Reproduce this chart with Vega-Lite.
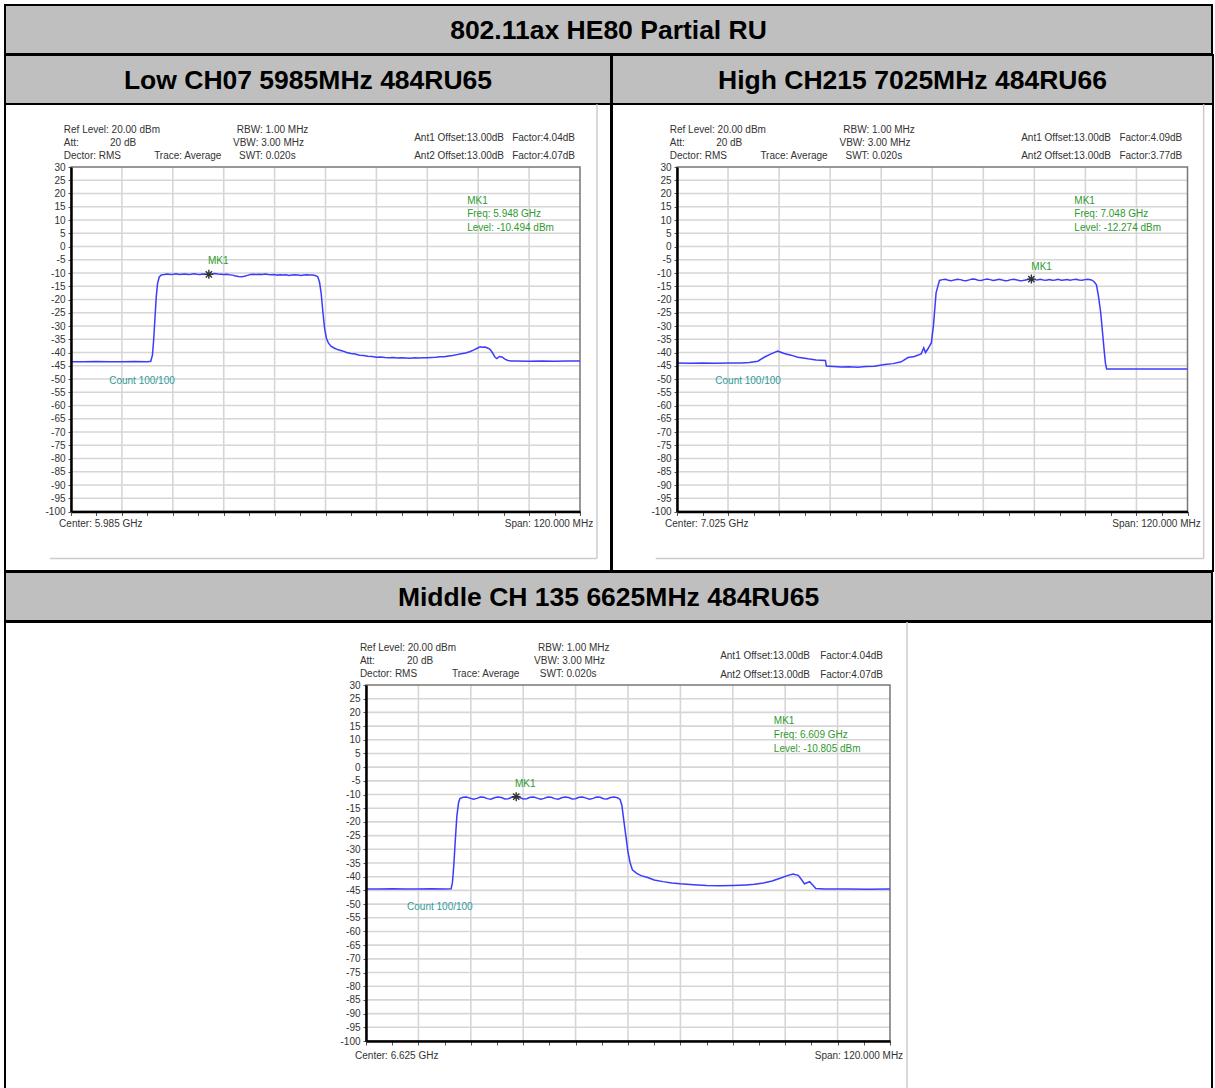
{
"$schema": "https://vega.github.io/schema/vega-lite/v6.json",
"background": "white",
"padding": {"left": 4, "top": 4, "right": 2, "bottom": 0},
"spacing": -2,
"config": {"view": {"stroke": null}, "text": {"font": "Liberation Sans"}, "axis": {"labelFont": "Liberation Sans"}},
"datasets": {
"gridY": [{"db":-95},{"db":-90},{"db":-85},{"db":-80},{"db":-75},{"db":-70},{"db":-65},{"db":-60},{"db":-55},{"db":-50},{"db":-45},{"db":-40},{"db":-35},{"db":-30},{"db":-25},{"db":-20},{"db":-15},{"db":-10},{"db":-5},{"db":0},{"db":5},{"db":10},{"db":15},{"db":20},{"db":25}],
"lowGridX": [{"f":5937},{"f":5949},{"f":5961},{"f":5973},{"f":5985},{"f":5997},{"f":6009},{"f":6021},{"f":6033}],
"highGridX": [{"f":6977},{"f":6989},{"f":7001},{"f":7013},{"f":7025},{"f":7037},{"f":7049},{"f":7061},{"f":7073}],
"midGridX": [{"f":6577},{"f":6589},{"f":6601},{"f":6613},{"f":6625},{"f":6637},{"f":6649},{"f":6661},{"f":6673}],
"lowTrace": [
{"f":5925,"db":-43.5},{"f":5928,"db":-43.5},{"f":5931,"db":-43.4},{"f":5934,"db":-43.5},{"f":5937,"db":-43.5},{"f":5940,"db":-43.4},{"f":5943,"db":-43.5},{"f":5943.8,"db":-43.3},{"f":5944.2,"db":-41},{"f":5944.5,"db":-35},{"f":5944.8,"db":-27},{"f":5945.1,"db":-19},{"f":5945.4,"db":-14},{"f":5945.8,"db":-11.5},{"f":5946.3,"db":-10.7},{"f":5947.0,"db":-10.6},{"f":5947.7,"db":-10.4},{"f":5948.4,"db":-10.6},{"f":5949.1,"db":-10.5},{"f":5949.8,"db":-10.3},{"f":5950.5,"db":-10.6},{"f":5951.2,"db":-10.5},{"f":5951.9,"db":-10.4},{"f":5952.6,"db":-10.6},{"f":5953.3,"db":-10.5},{"f":5954.0,"db":-10.3},{"f":5954.7,"db":-10.5},{"f":5955.4,"db":-10.6},{"f":5956.1,"db":-10.4},{"f":5956.8,"db":-10.5},{"f":5957.5,"db":-10.5},{"f":5958.2,"db":-10.4},{"f":5958.9,"db":-10.2},{"f":5959.6,"db":-10.4},{"f":5960.3,"db":-10.5},{"f":5961.0,"db":-10.6},{"f":5961.7,"db":-10.5},{"f":5962.4,"db":-10.7},{"f":5963.1,"db":-10.8},{"f":5963.8,"db":-11.1},{"f":5964.5,"db":-11.3},{"f":5965.2,"db":-11.4},{"f":5965.9,"db":-11.2},{"f":5966.6,"db":-10.9},{"f":5967.3,"db":-10.6},{"f":5968.0,"db":-10.5},{"f":5968.7,"db":-10.6},{"f":5969.4,"db":-10.5},{"f":5970.1,"db":-10.6},{"f":5970.8,"db":-10.4},{"f":5971.5,"db":-10.6},{"f":5972.2,"db":-10.7},{"f":5972.9,"db":-10.6},{"f":5973.6,"db":-10.8},{"f":5974.3,"db":-10.7},{"f":5975.0,"db":-10.8},{"f":5975.7,"db":-10.7},{"f":5976.4,"db":-10.9},{"f":5977.1,"db":-10.8},{"f":5977.8,"db":-10.7},{"f":5978.5,"db":-10.8},{"f":5979.2,"db":-10.9},{"f":5979.9,"db":-10.8},{"f":5980.6,"db":-10.7},{"f":5981.3,"db":-10.8},{"f":5982.0,"db":-10.8},{"f":5982.7,"db":-11.0},{"f":5983.2,"db":-11.5},{"f":5983.6,"db":-13.5},{"f":5984.0,"db":-18},{"f":5984.4,"db":-25},{"f":5984.8,"db":-31},{"f":5985.2,"db":-34.5},{"f":5985.7,"db":-36.5},{"f":5986.3,"db":-37.6},{"f":5987.0,"db":-38.3},{"f":5988.0,"db":-39.0},{"f":5989.0,"db":-39.4},{"f":5990.0,"db":-40.0},{"f":5991.0,"db":-40.4},{"f":5992.0,"db":-40.6},{"f":5993.0,"db":-41.0},{"f":5994.0,"db":-41.1},{"f":5995.0,"db":-41.4},{"f":5996.0,"db":-41.5},{"f":5997.0,"db":-41.8},{"f":5998.0,"db":-41.7},{"f":5999.0,"db":-41.9},{"f":6000.0,"db":-42.0},{"f":6001.0,"db":-41.9},{"f":6002.0,"db":-42.1},{"f":6003.0,"db":-42.0},{"f":6004.0,"db":-42.1},{"f":6005.0,"db":-42.2},{"f":6006.0,"db":-42.0},{"f":6007.0,"db":-42.1},{"f":6008.0,"db":-42.0},{"f":6009.0,"db":-42.0},{"f":6010.0,"db":-41.9},{"f":6011.0,"db":-41.8},{"f":6012.0,"db":-41.6},{"f":6013.0,"db":-41.6},{"f":6014.0,"db":-41.3},{"f":6015.0,"db":-41.1},{"f":6016.0,"db":-40.8},{"f":6017.0,"db":-40.5},{"f":6018.0,"db":-40.2},{"f":6019.0,"db":-39.7},{"f":6020.0,"db":-39.0},{"f":6021.0,"db":-38.2},{"f":6021.5,"db":-37.8},{"f":6022.0,"db":-38.0},{"f":6022.6,"db":-37.9},{"f":6023.2,"db":-38.3},{"f":6023.8,"db":-38.8},{"f":6024.4,"db":-40.2},{"f":6025.0,"db":-41.8},{"f":6025.4,"db":-42.3},{"f":6026.0,"db":-41.5},{"f":6026.6,"db":-41.7},{"f":6027.3,"db":-42.5},{"f":6028.0,"db":-43.0},{"f":6028.8,"db":-43.2},{"f":6030,"db":-43.2},{"f":6033,"db":-43.3},{"f":6036,"db":-43.2},{"f":6039,"db":-43.3},{"f":6042,"db":-43.2},{"f":6045,"db":-43.2}],
"highTrace": [
{"f":6965,"db":-44.0},{"f":6968,"db":-44.1},{"f":6971,"db":-44.0},{"f":6974,"db":-44.1},{"f":6977,"db":-44.0},{"f":6980.1,"db":-44.0},{"f":6982,"db":-43.8},{"f":6984.0,"db":-43.3},{"f":6985.5,"db":-41.8},{"f":6987.1,"db":-40.5},{"f":6988.7,"db":-39.5},{"f":6990.2,"db":-40.4},{"f":6991.8,"db":-41.0},{"f":6993.4,"db":-41.8},{"f":6995.8,"db":-42.4},{"f":6997.7,"db":-42.8},{"f":6999.9,"db":-43.0},{"f":7000.1,"db":-45.1},{"f":7001.8,"db":-45.3},{"f":7003.6,"db":-45.5},{"f":7005.5,"db":-45.4},{"f":7007.5,"db":-45.6},{"f":7009.4,"db":-45.3},{"f":7011.4,"db":-45.2},{"f":7013.8,"db":-44.5},{"f":7015.8,"db":-44.2},{"f":7017.7,"db":-43.5},{"f":7019.3,"db":-41.9},{"f":7020.8,"db":-41.5},{"f":7022.4,"db":-40.5},{"f":7023.0,"db":-38.2},{"f":7023.4,"db":-40.0},{"f":7024.0,"db":-38.6},{"f":7024.8,"db":-36.3},{"f":7025.3,"db":-29.5},{"f":7025.9,"db":-17.5},{"f":7026.7,"db":-12.8},{"f":7027.4,"db":-12.5},{"f":7028.1,"db":-12.4},{"f":7028.8,"db":-12.7},{"f":7029.5,"db":-12.9},{"f":7030.2,"db":-12.6},{"f":7030.9,"db":-12.4},{"f":7031.6,"db":-12.5},{"f":7032.3,"db":-12.8},{"f":7033.0,"db":-12.9},{"f":7033.7,"db":-12.6},{"f":7034.4,"db":-12.3},{"f":7035.1,"db":-12.4},{"f":7035.8,"db":-12.7},{"f":7036.5,"db":-12.8},{"f":7037.2,"db":-12.5},{"f":7037.9,"db":-12.3},{"f":7038.6,"db":-12.5},{"f":7039.3,"db":-12.8},{"f":7040.0,"db":-12.6},{"f":7040.7,"db":-12.4},{"f":7041.4,"db":-12.6},{"f":7042.1,"db":-12.9},{"f":7042.8,"db":-12.8},{"f":7043.5,"db":-12.5},{"f":7044.2,"db":-12.4},{"f":7044.9,"db":-12.6},{"f":7045.6,"db":-12.9},{"f":7046.3,"db":-12.8},{"f":7047.0,"db":-12.6},{"f":7047.7,"db":-12.4},{"f":7048.3,"db":-12.3},{"f":7049.0,"db":-12.5},{"f":7049.7,"db":-12.6},{"f":7050.4,"db":-12.4},{"f":7051.1,"db":-12.6},{"f":7051.8,"db":-12.7},{"f":7052.5,"db":-12.5},{"f":7053.2,"db":-12.7},{"f":7053.9,"db":-12.6},{"f":7054.6,"db":-12.4},{"f":7055.3,"db":-12.7},{"f":7056.0,"db":-12.6},{"f":7056.7,"db":-12.5},{"f":7057.4,"db":-12.7},{"f":7058.1,"db":-12.5},{"f":7058.8,"db":-12.4},{"f":7059.5,"db":-12.6},{"f":7060.2,"db":-12.7},{"f":7060.9,"db":-12.5},{"f":7061.6,"db":-12.4},{"f":7062.4,"db":-12.6},{"f":7063.0,"db":-13.2},{"f":7063.6,"db":-14.5},{"f":7064.1,"db":-19},{"f":7064.6,"db":-25},{"f":7065.0,"db":-32},{"f":7065.4,"db":-39},{"f":7065.7,"db":-44},{"f":7066.0,"db":-46.2},{"f":7070,"db":-46.2},{"f":7075,"db":-46.2},{"f":7080,"db":-46.2},{"f":7085,"db":-46.2}],
"midTrace": [
{"f":6565,"db":-44.5},{"f":6568,"db":-44.5},{"f":6571,"db":-44.4},{"f":6574,"db":-44.5},{"f":6577,"db":-44.5},{"f":6580,"db":-44.4},{"f":6583,"db":-44.5},{"f":6584.5,"db":-44.4},{"f":6584.8,"db":-42},{"f":6585.1,"db":-36},{"f":6585.4,"db":-28},{"f":6585.8,"db":-18},{"f":6586.2,"db":-13},{"f":6586.5,"db":-11.5},{"f":6587.2,"db":-11.0},{"f":6588.0,"db":-10.9},{"f":6588.8,"db":-11.3},{"f":6589.6,"db":-11.7},{"f":6590.4,"db":-11.4},{"f":6591.2,"db":-10.9},{"f":6592.0,"db":-11.0},{"f":6592.8,"db":-11.5},{"f":6593.6,"db":-11.7},{"f":6594.4,"db":-11.2},{"f":6595.2,"db":-10.9},{"f":6596.0,"db":-11.1},{"f":6596.8,"db":-11.6},{"f":6597.6,"db":-11.5},{"f":6598.4,"db":-11.0},{"f":6599.4,"db":-10.8},{"f":6600.2,"db":-11.1},{"f":6601.0,"db":-11.6},{"f":6601.8,"db":-11.5},{"f":6602.6,"db":-11.0},{"f":6603.4,"db":-10.9},{"f":6604.2,"db":-11.3},{"f":6605.0,"db":-11.7},{"f":6605.8,"db":-11.4},{"f":6606.6,"db":-10.9},{"f":6607.4,"db":-11.0},{"f":6608.2,"db":-11.5},{"f":6609.0,"db":-11.7},{"f":6609.8,"db":-11.2},{"f":6610.6,"db":-10.9},{"f":6611.4,"db":-11.1},{"f":6612.2,"db":-11.6},{"f":6613.0,"db":-11.5},{"f":6613.8,"db":-11.0},{"f":6614.6,"db":-10.9},{"f":6615.4,"db":-11.3},{"f":6616.2,"db":-11.7},{"f":6617.0,"db":-11.4},{"f":6617.8,"db":-10.9},{"f":6618.6,"db":-11.0},{"f":6619.4,"db":-11.5},{"f":6620.2,"db":-11.6},{"f":6621.0,"db":-11.1},{"f":6621.8,"db":-10.9},{"f":6622.6,"db":-11.2},{"f":6623.2,"db":-11.8},{"f":6623.6,"db":-14},{"f":6624.0,"db":-19},{"f":6624.5,"db":-25},{"f":6625.0,"db":-31},{"f":6625.5,"db":-35},{"f":6626.0,"db":-37.5},{"f":6627.0,"db":-38.8},{"f":6628.0,"db":-39.6},{"f":6629.5,"db":-40.3},{"f":6631,"db":-41.2},{"f":6633,"db":-41.8},{"f":6635,"db":-42.3},{"f":6637,"db":-42.6},{"f":6640,"db":-42.9},{"f":6643,"db":-43.2},{"f":6646,"db":-43.3},{"f":6649,"db":-43.2},{"f":6652,"db":-43.0},{"f":6654,"db":-42.8},{"f":6656,"db":-42.3},{"f":6658,"db":-41.6},{"f":6660,"db":-40.5},{"f":6661.5,"db":-39.6},{"f":6662.8,"db":-39.0},{"f":6664.0,"db":-39.5},{"f":6664.8,"db":-41.2},{"f":6665.4,"db":-42.6},{"f":6666.0,"db":-42.2},{"f":6666.6,"db":-41.8},{"f":6667.3,"db":-43.0},{"f":6668,"db":-44.3},{"f":6670,"db":-44.5},{"f":6675,"db":-44.5},{"f":6680,"db":-44.6},{"f":6685,"db":-44.5}],
"lowMarker": [{"f":5957.5,"db":-10.5}],
"highMarker": [{"f":7048.3,"db":-12.3}],
"midMarker": [{"f":6599.4,"db":-10.8}],
"lowText": [
{"f":5923.3,"db":43.9,"label":"Ref Level: 20.00 dBm","kind":"info"},
{"f":5923.3,"db":39.0,"label":"Att:","kind":"info"},
{"f":5934.2,"db":39.0,"label":"20 dB","kind":"info"},
{"f":5923.3,"db":34.1,"label":"Dector: RMS","kind":"info"},
{"f":5944.6,"db":34.1,"label":"Trace: Average","kind":"info"},
{"f":5964.1,"db":43.9,"label":"RBW: 1.00 MHz","kind":"info"},
{"f":5963.2,"db":39.0,"label":"VBW: 3.00 MHz","kind":"info"},
{"f":5964.6,"db":34.1,"label":"SWT: 0.020s","kind":"info"},
{"f":6005.9,"db":40.9,"label":"Ant1 Offset:13.00dB","kind":"info"},
{"f":6029.0,"db":40.9,"label":"Factor:4.04dB","kind":"info"},
{"f":6005.9,"db":34.1,"label":"Ant2 Offset:13.00dB","kind":"info"},
{"f":6029.0,"db":34.1,"label":"Factor:4.07dB","kind":"info"},
{"f":6018.4,"db":17.2,"label":"MK1","kind":"marker"},
{"f":6018.4,"db":12.3,"label":"Freq: 5.948 GHz","kind":"marker"},
{"f":6018.4,"db":7.0,"label":"Level: -10.494 dBm","kind":"marker"},
{"f":5957.3,"db":-5.4,"label":"MK1","kind":"marker"},
{"f":5934.0,"db":-50.6,"label":"Count 100/100","kind":"count"},
{"f":5922.2,"db":-104.9,"label":"Center: 5.985 GHz","kind":"info"},
{"f":6048.1,"db":-104.9,"label":"Span: 120.000 MHz","kind":"info","side":"right"}],
"highText": [
{"f":6963.3,"db":43.9,"label":"Ref Level: 20.00 dBm","kind":"info"},
{"f":6963.3,"db":39.0,"label":"Att:","kind":"info"},
{"f":6974.2,"db":39.0,"label":"20 dB","kind":"info"},
{"f":6963.3,"db":34.1,"label":"Dector: RMS","kind":"info"},
{"f":6984.6,"db":34.1,"label":"Trace: Average","kind":"info"},
{"f":7004.1,"db":43.9,"label":"RBW: 1.00 MHz","kind":"info"},
{"f":7003.2,"db":39.0,"label":"VBW: 3.00 MHz","kind":"info"},
{"f":7004.6,"db":34.1,"label":"SWT: 0.020s","kind":"info"},
{"f":7045.9,"db":40.9,"label":"Ant1 Offset:13.00dB","kind":"info"},
{"f":7069.0,"db":40.9,"label":"Factor:4.09dB","kind":"info"},
{"f":7045.9,"db":34.1,"label":"Ant2 Offset:13.00dB","kind":"info"},
{"f":7069.0,"db":34.1,"label":"Factor:3.77dB","kind":"info"},
{"f":7058.4,"db":17.2,"label":"MK1","kind":"marker"},
{"f":7058.4,"db":12.3,"label":"Freq: 7.048 GHz","kind":"marker"},
{"f":7058.4,"db":7.0,"label":"Level: -12.274 dBm","kind":"marker"},
{"f":7048.3,"db":-7.7,"label":"MK1","kind":"marker"},
{"f":6974.0,"db":-50.6,"label":"Count 100/100","kind":"count"},
{"f":6962.2,"db":-104.9,"label":"Center: 7.025 GHz","kind":"info"},
{"f":7088.1,"db":-104.9,"label":"Span: 120.000 MHz","kind":"info","side":"right"}],
"midText": [
{"f":6563.6,"db":43.5,"label":"Ref Level: 20.00 dBm","kind":"info"},
{"f":6563.6,"db":38.8,"label":"Att:","kind":"info"},
{"f":6574.4,"db":38.8,"label":"20 dB","kind":"info"},
{"f":6563.6,"db":34.0,"label":"Dector: RMS","kind":"info"},
{"f":6584.7,"db":34.0,"label":"Trace: Average","kind":"info"},
{"f":6604.4,"db":43.5,"label":"RBW: 1.00 MHz","kind":"info"},
{"f":6603.5,"db":38.8,"label":"VBW: 3.00 MHz","kind":"info"},
{"f":6604.8,"db":34.0,"label":"SWT: 0.020s","kind":"info"},
{"f":6646.1,"db":40.6,"label":"Ant1 Offset:13.00dB","kind":"info"},
{"f":6669.0,"db":40.6,"label":"Factor:4.04dB","kind":"info"},
{"f":6646.1,"db":33.7,"label":"Ant2 Offset:13.00dB","kind":"info"},
{"f":6669.0,"db":33.7,"label":"Factor:4.07dB","kind":"info"},
{"f":6658.4,"db":16.9,"label":"MK1","kind":"marker"},
{"f":6658.4,"db":11.7,"label":"Freq: 6.609 GHz","kind":"marker"},
{"f":6658.4,"db":6.6,"label":"Level: -10.805 dBm","kind":"marker"},
{"f":6599.1,"db":-6.2,"label":"MK1","kind":"marker"},
{"f":6574.4,"db":-51.1,"label":"Count 100/100","kind":"count"},
{"f":6562.5,"db":-105.5,"label":"Center: 6.625 GHz","kind":"info"},
{"f":6688.0,"db":-105.5,"label":"Span: 120.000 MHz","kind":"info","side":"right"}]
},
"vconcat": [
{"width": 1207, "height": 49, "view": {"fill": "#bfbfbf", "stroke": "#000", "strokeWidth": 2},
 "data": {"values": [{"label": "802.11ax HE80 Partial RU"}]},
 "mark": {"type": "text", "fontSize": 26.5, "fontWeight": "bold", "font": "Liberation Sans", "color": "#000", "dy": 1.5},
 "encoding": {"text": {"field": "label"}}},
{"hconcat": [
 {"vconcat": [
  {"width": 606, "height": 49, "view": {"fill": "#bfbfbf", "stroke": "#000", "strokeWidth": 2},
   "data": {"values": [{"label": "Low CH07 5985MHz 484RU65"}]},
   "mark": {"type": "text", "fontSize": 26.5, "fontWeight": "bold", "font": "Liberation Sans", "color": "#000", "dy": 1.5},
   "encoding": {"text": {"field": "label"}}},
  {"width": 606, "height": 467, "view": {"fill": "white", "stroke": "#000", "strokeWidth": 2},
   "layer": [
    {"data": {"name": "gridY"}, "mark": {"type": "rule", "color": "#d6d6d6", "strokeWidth": 1.6},
     "encoding": {"y": {"field": "db", "type": "quantitative", "title": null, "axis": {"values": [30,25,20,15,10,5,0,-5,-10,-15,-20,-25,-30,-35,-40,-45,-50,-55,-60,-65,-70,-75,-80,-85,-90,-95,-100]}}, "x": {"datum": 5925, "type": "quantitative", "title": null, "axis": {"values": [5925,5931,5937,5943,5949,5955,5961,5967,5973,5979,5985,5991,5997,6003,6009,6015,6021,6027,6033,6039,6045]}}, "x2": {"datum": 6045}}},
    {"data": {"name": "lowGridX"}, "mark": {"type": "rule", "color": "#d6d6d6", "strokeWidth": 1.6},
     "encoding": {"x": {"field": "f", "type": "quantitative", "title": null, "axis": {"values": [5925,5931,5937,5943,5949,5955,5961,5967,5973,5979,5985,5991,5997,6003,6009,6015,6021,6027,6033,6039,6045]}}, "y": {"datum": -100, "type": "quantitative", "title": null, "axis": {"values": [30,25,20,15,10,5,0,-5,-10,-15,-20,-25,-30,-35,-40,-45,-50,-55,-60,-65,-70,-75,-80,-85,-90,-95,-100]}}, "y2": {"datum": 30}}},
    {"data": {"values": [{}]}, "mark": {"type": "rect", "filled": false, "stroke": "#777777", "strokeWidth": 1.5},
     "encoding": {"x": {"datum": 5925, "type": "quantitative", "title": null, "axis": {"values": [5925,5931,5937,5943,5949,5955,5961,5967,5973,5979,5985,5991,5997,6003,6009,6015,6021,6027,6033,6039,6045]}}, "x2": {"datum": 6045}, "y": {"datum": 30, "type": "quantitative", "title": null, "axis": {"values": [30,25,20,15,10,5,0,-5,-10,-15,-20,-25,-30,-35,-40,-45,-50,-55,-60,-65,-70,-75,-80,-85,-90,-95,-100]}}, "y2": {"datum": -100}}},
    {"data": {"values": [{}]}, "mark": {"type": "rule", "color": "#cccccc", "strokeWidth": 1.5},
     "encoding": {"x": {"datum": 6049, "type": "quantitative", "title": null, "axis": {"values": [5925,5931,5937,5943,5949,5955,5961,5967,5973,5979,5985,5991,5997,6003,6009,6015,6021,6027,6033,6039,6045]}}, "y": {"datum": -117.7, "type": "quantitative", "title": null, "axis": {"values": [30,25,20,15,10,5,0,-5,-10,-15,-20,-25,-30,-35,-40,-45,-50,-55,-60,-65,-70,-75,-80,-85,-90,-95,-100]}}, "y2": {"datum": 53.7}}},
    {"data": {"values": [{}]}, "mark": {"type": "rule", "color": "#cccccc", "strokeWidth": 1.5},
     "encoding": {"x": {"datum": 5920, "type": "quantitative", "title": null, "axis": {"values": [5925,5931,5937,5943,5949,5955,5961,5967,5973,5979,5985,5991,5997,6003,6009,6015,6021,6027,6033,6039,6045]}}, "x2": {"datum": 6049}, "y": {"datum": -117.7, "type": "quantitative", "title": null, "axis": {"values": [30,25,20,15,10,5,0,-5,-10,-15,-20,-25,-30,-35,-40,-45,-50,-55,-60,-65,-70,-75,-80,-85,-90,-95,-100]}}}},
    {"data": {"name": "lowTrace"}, "mark": {"type": "line", "color": "#3c3cff", "strokeWidth": 1.5},
     "encoding": {
      "x": {"field": "f", "type": "quantitative", "title": null, "scale": {"domain": [5925, 6045], "range": [66, 575], "nice": false, "zero": false},
            "axis": {"orient": "bottom", "offset": -59.5, "values": [5925,5931,5937,5943,5949,5955,5961,5967,5973,5979,5985,5991,5997,6003,6009,6015,6021,6027,6033,6039,6045], "labels": false, "grid": false, "title": null, "domainColor": "#000", "domainWidth": 2.5, "tickColor": "#555", "tickSize": 4, "zindex": 1}},
      "y": {"field": "db", "type": "quantitative", "title": null, "scale": {"domain": [-100, 30], "range": [407.5, 63], "nice": false, "zero": false},
            "axis": {"orient": "left", "offset": -66, "values": [30,25,20,15,10,5,0,-5,-10,-15,-20,-25,-30,-35,-40,-45,-50,-55,-60,-65,-70,-75,-80,-85,-90,-95,-100], "labelExpr": "datum.value + ''", "grid": false, "title": null, "domainColor": "#000", "domainWidth": 2.5, "tickColor": "#555", "tickSize": 3, "labelFontSize": 10, "labelColor": "#333", "labelPadding": 3, "labelOverlap": false, "zindex": 1}}}},
    {"data": {"name": "lowMarker"}, "mark": {"type": "point", "shape": "M-1,0H1M0,-1V1M-0.7,-0.7L0.7,0.7M-0.7,0.7L0.7,-0.7", "size": 80, "filled": false, "color": "#333", "strokeWidth": 1.4, "opacity": 1},
     "encoding": {"x": {"field": "f", "type": "quantitative", "title": null, "axis": {"values": [5925,5931,5937,5943,5949,5955,5961,5967,5973,5979,5985,5991,5997,6003,6009,6015,6021,6027,6033,6039,6045]}}, "y": {"field": "db", "type": "quantitative", "title": null, "axis": {"values": [30,25,20,15,10,5,0,-5,-10,-15,-20,-25,-30,-35,-40,-45,-50,-55,-60,-65,-70,-75,-80,-85,-90,-95,-100]}}}},
    {"data": {"name": "lowText"}, "transform": [{"filter": "datum.side !== 'right'"}], "mark": {"type": "text", "align": "left", "baseline": "middle", "fontSize": 10},
     "encoding": {"x": {"field": "f", "type": "quantitative", "title": null, "axis": {"values": [5925,5931,5937,5943,5949,5955,5961,5967,5973,5979,5985,5991,5997,6003,6009,6015,6021,6027,6033,6039,6045]}}, "y": {"field": "db", "type": "quantitative", "title": null, "axis": {"values": [30,25,20,15,10,5,0,-5,-10,-15,-20,-25,-30,-35,-40,-45,-50,-55,-60,-65,-70,-75,-80,-85,-90,-95,-100]}}, "text": {"field": "label"},
      "color": {"field": "kind", "type": "nominal", "scale": {"domain": ["info","marker","count"], "range": ["#333333","#2e9a2e","#2f9a9a"]}, "legend": null}}},
    {"data": {"name": "lowText"}, "transform": [{"filter": "datum.side === 'right'"}], "mark": {"type": "text", "align": "right", "baseline": "middle", "fontSize": 10},
     "encoding": {"x": {"field": "f", "type": "quantitative", "title": null, "axis": {"values": [5925,5931,5937,5943,5949,5955,5961,5967,5973,5979,5985,5991,5997,6003,6009,6015,6021,6027,6033,6039,6045]}}, "y": {"field": "db", "type": "quantitative", "title": null, "axis": {"values": [30,25,20,15,10,5,0,-5,-10,-15,-20,-25,-30,-35,-40,-45,-50,-55,-60,-65,-70,-75,-80,-85,-90,-95,-100]}}, "text": {"field": "label"},
      "color": {"field": "kind", "type": "nominal", "legend": null}}}
   ]}
 ], "spacing": 0, "bounds": "flush"},
 {"vconcat": [
  {"width": 601, "height": 49, "view": {"fill": "#bfbfbf", "stroke": "#000", "strokeWidth": 2},
   "data": {"values": [{"label": "High CH215 7025MHz 484RU66"}]},
   "mark": {"type": "text", "fontSize": 26.5, "fontWeight": "bold", "font": "Liberation Sans", "color": "#000", "dy": 1.5},
   "encoding": {"text": {"field": "label"}}},
  {"width": 601, "height": 467, "view": {"fill": "white", "stroke": "#000", "strokeWidth": 2},
   "layer": [
    {"data": {"name": "gridY"}, "mark": {"type": "rule", "color": "#d6d6d6", "strokeWidth": 1.6},
     "encoding": {"y": {"field": "db", "type": "quantitative", "title": null, "axis": {"values": [30,25,20,15,10,5,0,-5,-10,-15,-20,-25,-30,-35,-40,-45,-50,-55,-60,-65,-70,-75,-80,-85,-90,-95,-100]}}, "x": {"datum": 6965, "type": "quantitative", "title": null, "axis": {"values": [6965,6971,6977,6983,6989,6995,7001,7007,7013,7019,7025,7031,7037,7043,7049,7055,7061,7067,7073,7079,7085]}}, "x2": {"datum": 7085}}},
    {"data": {"name": "highGridX"}, "mark": {"type": "rule", "color": "#d6d6d6", "strokeWidth": 1.6},
     "encoding": {"x": {"field": "f", "type": "quantitative", "title": null, "axis": {"values": [6965,6971,6977,6983,6989,6995,7001,7007,7013,7019,7025,7031,7037,7043,7049,7055,7061,7067,7073,7079,7085]}}, "y": {"datum": -100, "type": "quantitative", "title": null, "axis": {"values": [30,25,20,15,10,5,0,-5,-10,-15,-20,-25,-30,-35,-40,-45,-50,-55,-60,-65,-70,-75,-80,-85,-90,-95,-100]}}, "y2": {"datum": 30}}},
    {"data": {"values": [{}]}, "mark": {"type": "rect", "filled": false, "stroke": "#777777", "strokeWidth": 1.5},
     "encoding": {"x": {"datum": 6965, "type": "quantitative", "title": null, "axis": {"values": [6965,6971,6977,6983,6989,6995,7001,7007,7013,7019,7025,7031,7037,7043,7049,7055,7061,7067,7073,7079,7085]}}, "x2": {"datum": 7085}, "y": {"datum": 30, "type": "quantitative", "title": null, "axis": {"values": [30,25,20,15,10,5,0,-5,-10,-15,-20,-25,-30,-35,-40,-45,-50,-55,-60,-65,-70,-75,-80,-85,-90,-95,-100]}}, "y2": {"datum": -100}}},
    {"data": {"values": [{}]}, "mark": {"type": "rule", "color": "#cccccc", "strokeWidth": 1.5},
     "encoding": {"x": {"datum": 7088.8, "type": "quantitative", "title": null, "axis": {"values": [6965,6971,6977,6983,6989,6995,7001,7007,7013,7019,7025,7031,7037,7043,7049,7055,7061,7067,7073,7079,7085]}}, "y": {"datum": -117.7, "type": "quantitative", "title": null, "axis": {"values": [30,25,20,15,10,5,0,-5,-10,-15,-20,-25,-30,-35,-40,-45,-50,-55,-60,-65,-70,-75,-80,-85,-90,-95,-100]}}, "y2": {"datum": 53.7}}},
    {"data": {"values": [{}]}, "mark": {"type": "rule", "color": "#cccccc", "strokeWidth": 1.5},
     "encoding": {"x": {"datum": 6960, "type": "quantitative", "title": null, "axis": {"values": [6965,6971,6977,6983,6989,6995,7001,7007,7013,7019,7025,7031,7037,7043,7049,7055,7061,7067,7073,7079,7085]}}, "x2": {"datum": 7088.8}, "y": {"datum": -117.7, "type": "quantitative", "title": null, "axis": {"values": [30,25,20,15,10,5,0,-5,-10,-15,-20,-25,-30,-35,-40,-45,-50,-55,-60,-65,-70,-75,-80,-85,-90,-95,-100]}}}},
    {"data": {"name": "highTrace"}, "mark": {"type": "line", "color": "#3c3cff", "strokeWidth": 1.5},
     "encoding": {
      "x": {"field": "f", "type": "quantitative", "title": null, "scale": {"domain": [6965, 7085], "range": [65, 575.5], "nice": false, "zero": false},
            "axis": {"orient": "bottom", "offset": -59.5, "values": [6965,6971,6977,6983,6989,6995,7001,7007,7013,7019,7025,7031,7037,7043,7049,7055,7061,7067,7073,7079,7085], "labels": false, "grid": false, "title": null, "domainColor": "#000", "domainWidth": 2.5, "tickColor": "#555", "tickSize": 4, "zindex": 1}},
      "y": {"field": "db", "type": "quantitative", "title": null, "scale": {"domain": [-100, 30], "range": [407.5, 63], "nice": false, "zero": false},
            "axis": {"orient": "left", "offset": -65, "values": [30,25,20,15,10,5,0,-5,-10,-15,-20,-25,-30,-35,-40,-45,-50,-55,-60,-65,-70,-75,-80,-85,-90,-95,-100], "labelExpr": "datum.value + ''", "grid": false, "title": null, "domainColor": "#000", "domainWidth": 2.5, "tickColor": "#555", "tickSize": 3, "labelFontSize": 10, "labelColor": "#333", "labelPadding": 3, "labelOverlap": false, "zindex": 1}}}},
    {"data": {"name": "highMarker"}, "mark": {"type": "point", "shape": "M-1,0H1M0,-1V1M-0.7,-0.7L0.7,0.7M-0.7,0.7L0.7,-0.7", "size": 80, "filled": false, "color": "#333", "strokeWidth": 1.4, "opacity": 1},
     "encoding": {"x": {"field": "f", "type": "quantitative", "title": null, "axis": {"values": [6965,6971,6977,6983,6989,6995,7001,7007,7013,7019,7025,7031,7037,7043,7049,7055,7061,7067,7073,7079,7085]}}, "y": {"field": "db", "type": "quantitative", "title": null, "axis": {"values": [30,25,20,15,10,5,0,-5,-10,-15,-20,-25,-30,-35,-40,-45,-50,-55,-60,-65,-70,-75,-80,-85,-90,-95,-100]}}}},
    {"data": {"name": "highText"}, "transform": [{"filter": "datum.side !== 'right'"}], "mark": {"type": "text", "align": "left", "baseline": "middle", "fontSize": 10},
     "encoding": {"x": {"field": "f", "type": "quantitative", "title": null, "axis": {"values": [6965,6971,6977,6983,6989,6995,7001,7007,7013,7019,7025,7031,7037,7043,7049,7055,7061,7067,7073,7079,7085]}}, "y": {"field": "db", "type": "quantitative", "title": null, "axis": {"values": [30,25,20,15,10,5,0,-5,-10,-15,-20,-25,-30,-35,-40,-45,-50,-55,-60,-65,-70,-75,-80,-85,-90,-95,-100]}}, "text": {"field": "label"},
      "color": {"field": "kind", "type": "nominal", "scale": {"domain": ["info","marker","count"], "range": ["#333333","#2e9a2e","#2f9a9a"]}, "legend": null}}},
    {"data": {"name": "highText"}, "transform": [{"filter": "datum.side === 'right'"}], "mark": {"type": "text", "align": "right", "baseline": "middle", "fontSize": 10},
     "encoding": {"x": {"field": "f", "type": "quantitative", "title": null, "axis": {"values": [6965,6971,6977,6983,6989,6995,7001,7007,7013,7019,7025,7031,7037,7043,7049,7055,7061,7067,7073,7079,7085]}}, "y": {"field": "db", "type": "quantitative", "title": null, "axis": {"values": [30,25,20,15,10,5,0,-5,-10,-15,-20,-25,-30,-35,-40,-45,-50,-55,-60,-65,-70,-75,-80,-85,-90,-95,-100]}}, "text": {"field": "label"},
      "color": {"field": "kind", "type": "nominal", "legend": null}}}
   ]}
 ], "spacing": 0, "bounds": "flush"}
], "spacing": -2},
{"width": 1207, "height": 49, "view": {"fill": "#bfbfbf", "stroke": "#000", "strokeWidth": 2},
 "data": {"values": [{"label": "Middle CH 135 6625MHz 484RU65"}]},
 "mark": {"type": "text", "fontSize": 26.5, "fontWeight": "bold", "font": "Liberation Sans", "color": "#000", "dy": 1.5},
 "encoding": {"text": {"field": "label"}}},
{"width": 1207, "height": 470, "view": {"fill": "white", "stroke": "#000", "strokeWidth": 2},
 "layer": [
  {"data": {"name": "gridY"}, "mark": {"type": "rule", "color": "#d6d6d6", "strokeWidth": 1.6},
   "encoding": {"y": {"field": "db", "type": "quantitative", "title": null, "axis": {"values": [30,25,20,15,10,5,0,-5,-10,-15,-20,-25,-30,-35,-40,-45,-50,-55,-60,-65,-70,-75,-80,-85,-90,-95,-100]}}, "x": {"datum": 6565, "type": "quantitative", "title": null, "axis": {"values": [6565,6571,6577,6583,6589,6595,6601,6607,6613,6619,6625,6631,6637,6643,6649,6655,6661,6667,6673,6679,6685]}}, "x2": {"datum": 6685}}},
  {"data": {"name": "midGridX"}, "mark": {"type": "rule", "color": "#d6d6d6", "strokeWidth": 1.6},
   "encoding": {"x": {"field": "f", "type": "quantitative", "title": null, "axis": {"values": [6565,6571,6577,6583,6589,6595,6601,6607,6613,6619,6625,6631,6637,6643,6649,6655,6661,6667,6673,6679,6685]}}, "y": {"datum": -100, "type": "quantitative", "title": null, "axis": {"values": [30,25,20,15,10,5,0,-5,-10,-15,-20,-25,-30,-35,-40,-45,-50,-55,-60,-65,-70,-75,-80,-85,-90,-95,-100]}}, "y2": {"datum": 30}}},
  {"data": {"values": [{}]}, "mark": {"type": "rect", "filled": false, "stroke": "#777777", "strokeWidth": 1.5},
   "encoding": {"x": {"datum": 6565, "type": "quantitative", "title": null, "axis": {"values": [6565,6571,6577,6583,6589,6595,6601,6607,6613,6619,6625,6631,6637,6643,6649,6655,6661,6667,6673,6679,6685]}}, "x2": {"datum": 6685}, "y": {"datum": 30, "type": "quantitative", "title": null, "axis": {"values": [30,25,20,15,10,5,0,-5,-10,-15,-20,-25,-30,-35,-40,-45,-50,-55,-60,-65,-70,-75,-80,-85,-90,-95,-100]}}, "y2": {"datum": -100}}},
  {"data": {"values": [{}]}, "mark": {"type": "rule", "color": "#cccccc", "strokeWidth": 1.5},
   "encoding": {"x": {"datum": 6688.9, "type": "quantitative", "title": null, "axis": {"values": [6565,6571,6577,6583,6589,6595,6601,6607,6613,6619,6625,6631,6637,6643,6649,6655,6661,6667,6673,6679,6685]}}, "y": {"datum": -120, "type": "quantitative", "title": null, "axis": {"values": [30,25,20,15,10,5,0,-5,-10,-15,-20,-25,-30,-35,-40,-45,-50,-55,-60,-65,-70,-75,-80,-85,-90,-95,-100]}}, "y2": {"datum": 53}}},
  {"data": {"name": "midTrace"}, "mark": {"type": "line", "color": "#3c3cff", "strokeWidth": 1.5},
   "encoding": {
    "x": {"field": "f", "type": "quantitative", "title": null, "scale": {"domain": [6565, 6685], "range": [361, 885], "nice": false, "zero": false},
          "axis": {"orient": "bottom", "offset": -51, "values": [6565,6571,6577,6583,6589,6595,6601,6607,6613,6619,6625,6631,6637,6643,6649,6655,6661,6667,6673,6679,6685], "labels": false, "grid": false, "title": null, "domainColor": "#000", "domainWidth": 2.5, "tickColor": "#555", "tickSize": 4, "zindex": 1}},
    "y": {"field": "db", "type": "quantitative", "title": null, "scale": {"domain": [-100, 30], "range": [419, 63], "nice": false, "zero": false},
          "axis": {"orient": "left", "offset": -361, "values": [30,25,20,15,10,5,0,-5,-10,-15,-20,-25,-30,-35,-40,-45,-50,-55,-60,-65,-70,-75,-80,-85,-90,-95,-100], "labelExpr": "datum.value + ''", "grid": false, "title": null, "domainColor": "#000", "domainWidth": 2.5, "tickColor": "#555", "tickSize": 3, "labelFontSize": 10, "labelColor": "#333", "labelPadding": 3, "labelOverlap": false, "zindex": 1}}}},
  {"data": {"name": "midMarker"}, "mark": {"type": "point", "shape": "M-1,0H1M0,-1V1M-0.7,-0.7L0.7,0.7M-0.7,0.7L0.7,-0.7", "size": 80, "filled": false, "color": "#333", "strokeWidth": 1.4, "opacity": 1},
   "encoding": {"x": {"field": "f", "type": "quantitative", "title": null, "axis": {"values": [6565,6571,6577,6583,6589,6595,6601,6607,6613,6619,6625,6631,6637,6643,6649,6655,6661,6667,6673,6679,6685]}}, "y": {"field": "db", "type": "quantitative", "title": null, "axis": {"values": [30,25,20,15,10,5,0,-5,-10,-15,-20,-25,-30,-35,-40,-45,-50,-55,-60,-65,-70,-75,-80,-85,-90,-95,-100]}}}},
  {"data": {"name": "midText"}, "transform": [{"filter": "datum.side !== 'right'"}], "mark": {"type": "text", "align": "left", "baseline": "middle", "fontSize": 10},
   "encoding": {"x": {"field": "f", "type": "quantitative", "title": null, "axis": {"values": [6565,6571,6577,6583,6589,6595,6601,6607,6613,6619,6625,6631,6637,6643,6649,6655,6661,6667,6673,6679,6685]}}, "y": {"field": "db", "type": "quantitative", "title": null, "axis": {"values": [30,25,20,15,10,5,0,-5,-10,-15,-20,-25,-30,-35,-40,-45,-50,-55,-60,-65,-70,-75,-80,-85,-90,-95,-100]}}, "text": {"field": "label"},
    "color": {"field": "kind", "type": "nominal", "scale": {"domain": ["info","marker","count"], "range": ["#333333","#2e9a2e","#2f9a9a"]}, "legend": null}}},
  {"data": {"name": "midText"}, "transform": [{"filter": "datum.side === 'right'"}], "mark": {"type": "text", "align": "right", "baseline": "middle", "fontSize": 10},
   "encoding": {"x": {"field": "f", "type": "quantitative", "title": null, "axis": {"values": [6565,6571,6577,6583,6589,6595,6601,6607,6613,6619,6625,6631,6637,6643,6649,6655,6661,6667,6673,6679,6685]}}, "y": {"field": "db", "type": "quantitative", "title": null, "axis": {"values": [30,25,20,15,10,5,0,-5,-10,-15,-20,-25,-30,-35,-40,-45,-50,-55,-60,-65,-70,-75,-80,-85,-90,-95,-100]}}, "text": {"field": "label"},
    "color": {"field": "kind", "type": "nominal", "legend": null}}}
 ]}
]
}
